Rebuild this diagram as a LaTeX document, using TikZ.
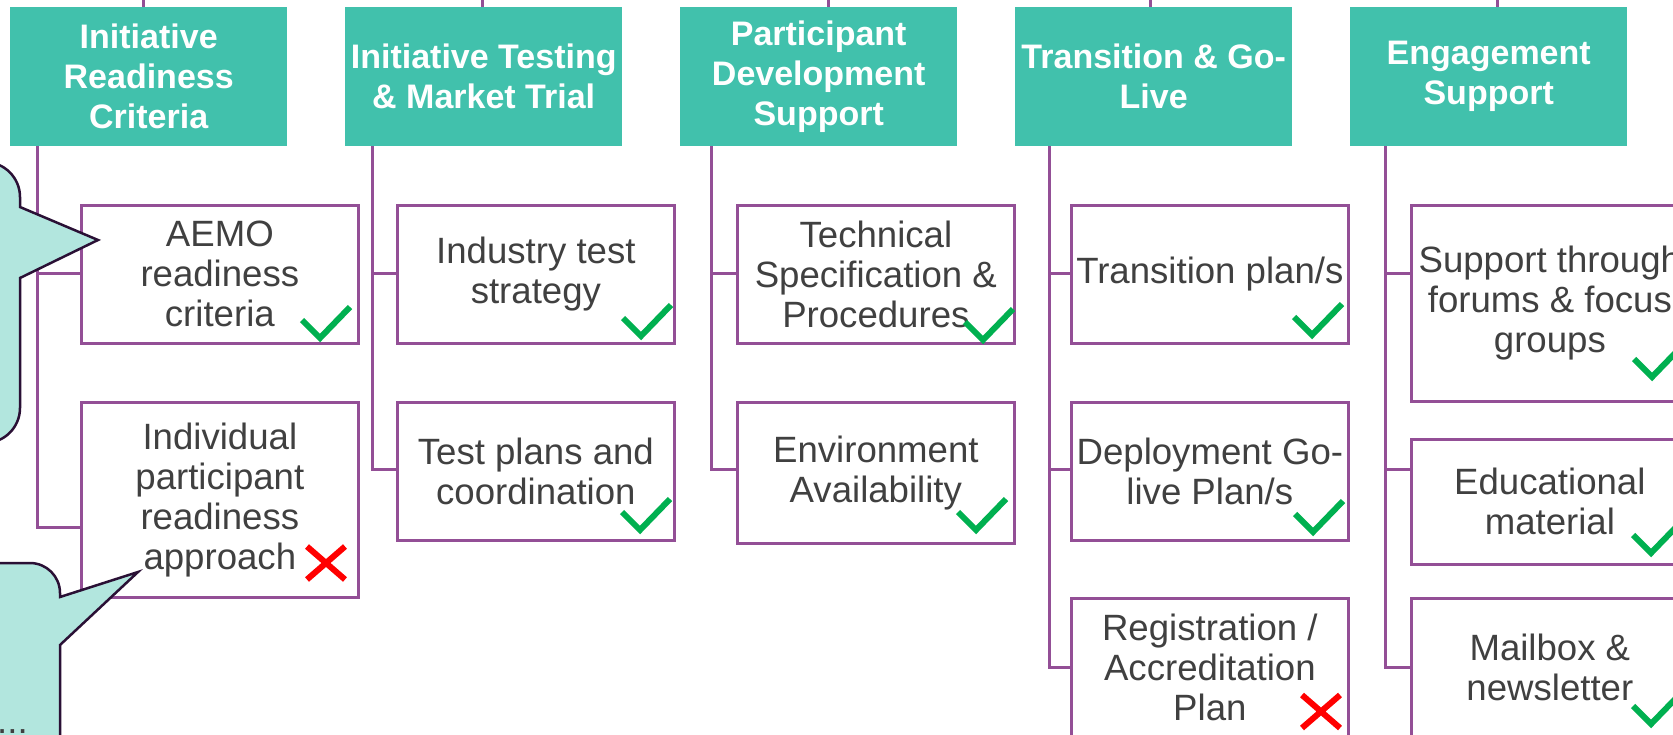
\documentclass[tikz,border=0pt]{standalone}
\usepackage{fontspec}
\setmainfont{Liberation Sans}
\definecolor{hdrteal}{HTML}{41C1AC}
\definecolor{linepurple}{HTML}{934F96}
\definecolor{callfill}{HTML}{B2E6DE}
\definecolor{callline}{HTML}{2A1035}
\definecolor{txtgray}{HTML}{404040}
\definecolor{tickgreen}{HTML}{00B050}
\definecolor{crossred}{HTML}{FF0000}
\begin{document}
\begin{tikzpicture}[x=1pt,y=-1pt,
  hdr/.style={fill=hdrteal, draw=none, minimum width=277pt, minimum height=139pt,
    anchor=north west, inner sep=0pt, text=white, align=center,
    font=\fontsize{34}{40}\selectfont\bfseries},
  item/.style={draw=linepurple, line width=2.7pt, fill=white, anchor=north west,
    minimum width=277pt, inner sep=0pt, text=txtgray, align=center,
    font=\fontsize{36.6}{40}\selectfont},
  link/.style={draw=linepurple, line width=3pt},
  tickm/.style={draw=tickgreen, line width=6pt, line join=miter},
  crossm/.style={draw=crossred, line width=6pt},
  callout/.style={fill=callfill, draw=callline, line width=2.5pt, line join=miter},
  checkpic/.pic={\draw[tickm] (-18,-18) -- (0,0) -- (30,-31);},
  crosspic/.pic={\draw[crossm] (-19,-16.5) -- (19,16.5) (-19,16.5) -- (19,-16.5);}
]
\clip (0,0) rectangle (1673,734);
\useasboundingbox (0,0) rectangle (1673,734);

% headers
\node[hdr] (h1) at (10,7) {Initiative\\Readiness\\Criteria};
\node[hdr] (h2) at (345,7) {Initiative Testing\\\& Market Trial};
\node[hdr] (h3) at (680,7) {Participant\\Development\\Support};
\node[hdr] (h4) at (1015,7) {Transition \& Go-\\Live};
\node[hdr] (h5) at (1350,7) {Engagement\\Support};

% lines above headers
\coordinate (u1) at (143,0);
\coordinate (u2) at (482,0);
\coordinate (u3) at (828,0);
\coordinate (u4) at (1150,0);
\coordinate (u5) at (1497,0);
\foreach \i in {1,...,5}{\draw[link] (u\i) -- (u\i |- h\i.north);}

% trunk tops
\coordinate (t1) at (37,146);
\coordinate (t2) at (372,146);
\coordinate (t3) at (711,146);
\coordinate (t4) at (1049,146);
\coordinate (t5) at (1385,146);
\coordinate (r1) at (0,273);
\coordinate (r2) at (0,469);
\coordinate (r2b) at (0,527);
\coordinate (r3) at (0,667);

% item boxes
\node[item, minimum height=138pt] (a1) at (80,204) {AEMO\\readiness\\criteria};
\node[item, minimum height=195pt] (a2) at (80,401) {Individual\\participant\\readiness\\approach};
\node[item, minimum height=138pt] (b1) at (396,204) {Industry test\\strategy};
\node[item, minimum height=138pt] (b2) at (396,401) {Test plans and\\coordination};
\node[item, minimum height=138pt] (c1) at (736,204) {Technical\\Specification \&\\Procedures};
\node[item, minimum height=141pt] (c2) at (736,401) {Environment\\Availability};
\node[item, minimum height=138pt] (d1) at (1070,204) {Transition plan/s};
\node[item, minimum height=138pt] (d2) at (1070,401) {Deployment Go-\\live Plan/s};
\node[item, minimum height=138pt] (d3) at (1070,597) {Registration /\\Accreditation\\Plan};
\node[item, minimum height=196pt] (e1) at (1410,204) {Support through\\forums \& focus\\groups};
\node[item, minimum height=125pt] (e2) at (1410,438) {Educational\\material};
\node[item, minimum height=138pt] (e3) at (1410,597) {Mailbox \&\\newsletter};

% connectors
\draw[link] (t1) |- (a1.west |- r1);
\draw[link] (t1) |- (a2.west |- r2b);
\draw[link] (t2) |- (b1.west |- r1);
\draw[link] (t2) |- (b2.west |- r2);
\draw[link] (t3) |- (c1.west |- r1);
\draw[link] (t3) |- (c2.west |- r2);
\draw[link] (t4) |- (d1.west |- r1);
\draw[link] (t4) |- (d2.west |- r2);
\draw[link] (t4) |- (d3.west |- r3);
\draw[link] (t5) |- (e1.west |- r1);
\draw[link] (t5) |- (e2.west |- r2);
\draw[link] (t5) |- (e3.west |- r3);

% ticks and crosses
\pic at (320,338) {checkpic};
\pic at (641,336) {checkpic};
\pic at (983,340) {checkpic};
\pic at (1312,335) {checkpic};
\pic at (1652,377) {checkpic};
\pic at (640,530) {checkpic};
\pic at (976,530) {checkpic};
\pic at (1313,532) {checkpic};
\pic at (1651,553) {checkpic};
\pic at (1651,724) {checkpic};
\pic at (326,563) {crosspic};
\pic at (1321,711.5) {crosspic};

% callouts
\draw[callout] (-50,162) -- (-15,162) .. controls (4.3,162) and (20,177.7) .. (20,197)
  -- (20,207) -- (98,240) -- (20,278) -- (20,408)
  .. controls (20,427.3) and (4.3,443) .. (-15,443) -- (-50,443) -- cycle;
\draw[callout] (-50,563) -- (30,563) .. controls (46.6,563) and (60,576.4) .. (60,593)
  -- (60,597) -- (138,572) -- (60,645) -- (60,760) -- (-50,760) -- cycle;
\node[anchor=base west, inner sep=0pt, text=txtgray, font=\fontsize{36.6}{40}\selectfont] (dots) at (-3,733) {...};
\end{tikzpicture}
\end{document}
